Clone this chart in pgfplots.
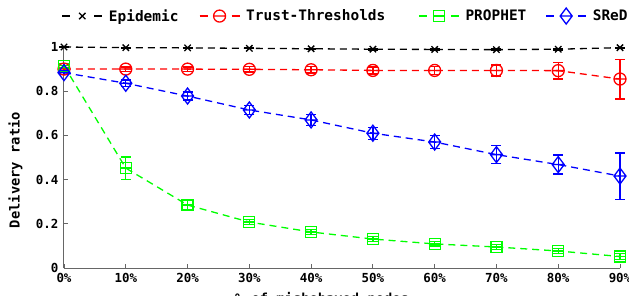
\documentclass[border=0pt]{standalone}
\usepackage{fontspec}
\setmainfont{DejaVu Sans Mono}
\usepackage{pgfplots}
\pgfplotsset{compat=1.18}
\pgfdeclareplotmark{ominus}{%
  \pgfpathcircle{\pgfpointorigin}{\pgfplotmarksize}%
  \pgfpathmoveto{\pgfqpoint{-\pgfplotmarksize}{0pt}}%
  \pgfpathlineto{\pgfqpoint{\pgfplotmarksize}{0pt}}%
  \pgfusepathqstroke}
\pgfdeclareplotmark{sqminus}{%
  \pgfpathrectangle{\pgfqpoint{-\pgfplotmarksize}{-\pgfplotmarksize}}{\pgfqpoint{2\pgfplotmarksize}{2\pgfplotmarksize}}%
  \pgfpathmoveto{\pgfqpoint{-\pgfplotmarksize}{0pt}}%
  \pgfpathlineto{\pgfqpoint{\pgfplotmarksize}{0pt}}%
  \pgfusepathqstroke}
\pgfdeclareplotmark{dminus}{%
  \pgfpathmoveto{\pgfqpoint{0pt}{\pgfplotmarksize}}%
  \pgfpathlineto{\pgfqpoint{.75\pgfplotmarksize}{0pt}}%
  \pgfpathlineto{\pgfqpoint{0pt}{-\pgfplotmarksize}}%
  \pgfpathlineto{\pgfqpoint{-.75\pgfplotmarksize}{0pt}}%
  \pgfpathclose
  \pgfpathmoveto{\pgfqpoint{-.75\pgfplotmarksize}{0pt}}%
  \pgfpathlineto{\pgfqpoint{.75\pgfplotmarksize}{0pt}}%
  \pgfusepathqstroke}
\begin{document}
\begin{tikzpicture}
\begin{axis}[
  scale only axis, width=556bp, height=221bp,
  xmin=0, xmax=90, ymin=0, ymax=1,
  clip=false,
  axis lines=left,
  axis line style={-, draw=black!60, line width=1bp},
  tick style={draw=black!60, line width=0.8bp},
  tick align=inside,
  major tick length=4bp,
  xtick={0,10,...,90},
  xticklabels={0\%,10\%,20\%,30\%,40\%,50\%,60\%,70\%,80\%,90\%},
  ytick={0,0.2,0.4,0.6,0.8,1},
  yticklabels={0,0.2,0.4,0.6,0.8,1},
  /pgf/number format/assume math mode=true,
  font=\bfseries\fontsize{13.8}{15}\selectfont,
  tick label style={font=\bfseries\fontsize{12.5}{13}\selectfont},
  xticklabel style={yshift=-2bp},
  yticklabel style={xshift=-2bp},
  ylabel={Delivery ratio},
  ylabel style={at={(rel axis cs:0,0.443)}, anchor=south, yshift=38bp},
  xlabel={\% of misbehaved nodes},
  xlabel style={at={(rel axis cs:0.464,0)}, anchor=north, yshift=-21bp},
  legend columns=4,
  legend style={draw=none, fill=none, at={(rel axis cs:-0.01,1.14)}, anchor=west,
    font=\bfseries\fontsize{14.5}{15}\selectfont,
    nodes={inner xsep=0pt},
    /tikz/every odd column/.append style={column sep=6bp},
    /tikz/every even column/.append style={column sep=0bp}},
  legend image code/.code={\draw[solid] (0bp,0bp)--(8bp,0bp) (32bp,0bp)--(40bp,0bp); \draw[solid] plot coordinates {(20bp,0bp)};},
  every axis plot/.append style={line width=1.3bp, dash pattern=on 7bp off 5bp},
  error bars/y dir=both, error bars/y explicit,
  error bars/error bar style={solid, line width=1.3bp},
  error bars/error mark options={solid, rotate=90, mark size=5bp, line width=1.3bp},
]
\addplot[black, mark=x, mark size=4.5bp, mark options={solid, line width=1.3bp}] coordinates {
(0,1.0) +- (0,0.002) (10,0.997) +- (0,0.002) (20,0.996) +- (0,0.002) (30,0.994) +- (0,0.002) (40,0.992) +- (0,0.002)
(50,0.99) +- (0,0.003) (60,0.989) +- (0,0.003) (70,0.988) +- (0,0.003) (80,0.99) +- (0,0.003) (90,0.997) +- (0,0.002)};
\addlegendentry{\makebox[90bp][l]{Epidemic}}
\addplot[red, mark=ominus, mark size=6bp, mark options={solid, line width=1.3bp}] coordinates {
(0,0.9) +- (0,0.005) (10,0.9) +- (0,0.01) (20,0.9) +- (0,0.01) (30,0.899) +- (0,0.012) (40,0.897) +- (0,0.015)
(50,0.894) +- (0,0.016) (60,0.894) +- (0,0.018) (70,0.894) +- (0,0.025) (80,0.893) +- (0,0.038) (90,0.855) +- (0,0.09)};
\addlegendentry{\makebox[172bp][l]{Trust-Thresholds}}
\addplot[green, mark=sqminus, mark size=5.5bp, mark options={solid, line width=1.3bp}] coordinates {
(0,0.915) +- (0,0.01) (10,0.452) +- (0,0.05) (20,0.285) +- (0,0.02) (30,0.208) +- (0,0.012) (40,0.163) +- (0,0.01)
(50,0.131) +- (0,0.01) (60,0.109) +- (0,0.01) (70,0.095) +- (0,0.01) (80,0.077) +- (0,0.012) (90,0.052) +- (0,0.015)};
\addlegendentry{\makebox[80bp][l]{PROPHET}}
\addplot[blue, mark=dminus, mark size=8bp, mark options={solid, line width=1.3bp}] coordinates {
(0,0.884) +- (0,0.01) (10,0.836) +- (0,0.015) (20,0.778) +- (0,0.018) (30,0.715) +- (0,0.02) (40,0.67) +- (0,0.025)
(50,0.61) +- (0,0.027) (60,0.57) +- (0,0.028) (70,0.513) +- (0,0.04) (80,0.468) +- (0,0.043) (90,0.416) +- (0,0.105)};
\addlegendentry{SReD}
\end{axis}
\pgfresetboundingbox
\path (-64bp,-28bp) rectangle (565bp,268bp);
\end{tikzpicture}
\end{document}
